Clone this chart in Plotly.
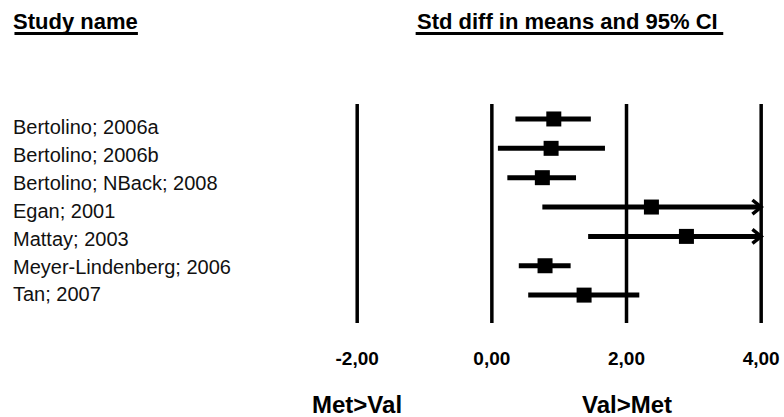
import plotly.graph_objects as go

# Forest plot: standardized difference in means (Val>Met vs Met>Val)
studies = [
    "Bertolino; 2006a",
    "Bertolino; 2006b",
    "Bertolino; NBack; 2008",
    "Egan; 2001",
    "Mattay; 2003",
    "Meyer-Lindenberg; 2006",
    "Tan; 2007",
]
std_diff = [0.92, 0.88, 0.75, 2.37, 2.89, 0.79, 1.37]
ci_lower = [0.35, 0.09, 0.23, 0.75, 1.43, 0.40, 0.54]
ci_upper = [1.47, 1.68, 1.25, 4.02, 4.36, 1.17, 2.19]

tick_values = [-2, 0, 2, 4]
tick_labels = ["-2,00", "0,00", "2,00", "4,00"]

X_MIN, X_MAX = -2, 4
rows = list(range(1, len(studies) + 1))

FONT = "Liberation Sans, Arial, sans-serif"
INK = "#000000"

# plot-area geometry (pixels) used to place the text column
PLOT_L, PLOT_W, PLOT_T, PLOT_H = 337, 443, 104, 219


def px_x(px):
    return (px - PLOT_L) / PLOT_W


def px_y(py):
    return (PLOT_T + PLOT_H - py) / PLOT_H


fig = go.Figure()

# reference lines at each tick
shapes = []
for v in tick_values:
    shapes.append(dict(type="line", xref="x", yref="y domain", x0=v, x1=v, y0=0, y1=1,
                       line=dict(color=INK, width=3.5), layer="below"))

# confidence intervals (clipped at the axis end, with open arrowheads)
for r, lo, hi in zip(rows, ci_lower, ci_upper):
    end = min(hi, X_MAX)
    fig.add_trace(go.Scatter(x=[lo, end], y=[r, r], mode="lines",
                             line=dict(color=INK, width=5),
                             hoverinfo="skip", showlegend=False, cliponaxis=False))
    if hi > X_MAX:
        fig.add_trace(go.Scatter(x=[X_MAX - 0.13, X_MAX, X_MAX - 0.13],
                                 y=[r - 0.24, r, r + 0.24], mode="lines",
                                 line=dict(color=INK, width=3.5),
                                 hoverinfo="skip", showlegend=False, cliponaxis=False))

# point estimates
fig.add_trace(go.Scatter(x=std_diff, y=rows, mode="markers",
                         marker=dict(symbol="square", size=15, color=INK),
                         text=studies, hovertemplate="%{text}: %{x:.2f}<extra></extra>",
                         showlegend=False, cliponaxis=False))

annotations = []
# study names, in their own evenly spaced column
for r, name in zip(rows, studies):
    annotations.append(dict(text=name, xref="paper", yref="paper",
                            x=px_x(10), y=px_y(127 + (r - 1) * 27.9),
                            xanchor="left", yanchor="middle", showarrow=False,
                            font=dict(family=FONT, size=20, color="#111111")))

# column headers
annotations.append(dict(text="Study name", xref="paper", yref="paper", x=px_x(10), y=px_y(22),
                        xanchor="left", yanchor="middle", showarrow=False,
                        font=dict(family=FONT, size=22, color=INK, weight="bold")))
annotations.append(dict(text="Std diff in means and 95% CI", xref="paper", yref="paper",
                        x=px_x(569), y=px_y(22), xanchor="center", yanchor="middle", showarrow=False,
                        font=dict(family=FONT, size=22, color=INK, weight="bold")))
shapes.append(dict(type="line", xref="paper", yref="paper", x0=px_x(13), x1=px_x(137),
                   y0=px_y(33.5), y1=px_y(33.5), line=dict(color=INK, width=3)))
shapes.append(dict(type="line", xref="paper", yref="paper", x0=px_x(416), x1=px_x(725),
                   y0=px_y(33.5), y1=px_y(33.5), line=dict(color=INK, width=3)))

# direction labels
annotations.append(dict(text="Met>Val", xref="x", yref="paper", x=-2, y=px_y(405),
                        xanchor="center", yanchor="middle", showarrow=False,
                        font=dict(family=FONT, size=24, color=INK, weight="bold")))
annotations.append(dict(text="Val>Met", xref="x", yref="paper", x=2, y=px_y(405),
                        xanchor="center", yanchor="middle", showarrow=False,
                        font=dict(family=FONT, size=24, color=INK, weight="bold")))

fig.update_layout(
    width=784, height=417,
    margin=dict(l=PLOT_L, r=784 - PLOT_L - PLOT_W, t=PLOT_T, b=417 - PLOT_T - PLOT_H),
    paper_bgcolor="white", plot_bgcolor="white",
    shapes=shapes, annotations=annotations,
    xaxis=dict(range=[-2.3, 4.25], tickvals=tick_values, ticktext=tick_labels,
               showgrid=False, zeroline=False, showline=False, ticks="",
               ticklabelstandoff=22,
               tickfont=dict(family=FONT, size=19, color=INK, weight="bold")),
    yaxis=dict(range=[7.95, 0.49], showgrid=False, zeroline=False, showline=False,
               showticklabels=False, ticks=""),
)

fig.write_html("out.html")
